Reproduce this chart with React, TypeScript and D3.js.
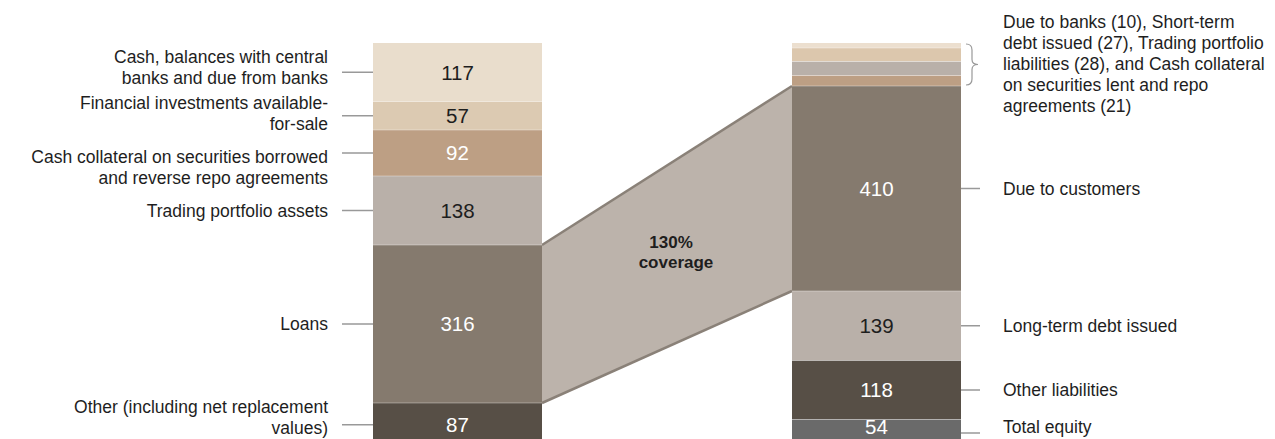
import * as d3 from 'd3';

// ── Data ──────────────────────────────────────────────────────────────────────
const ASSET_LABELS = [
  'Cash, balances with central\nbanks and due from banks',
  'Financial investments available-\nfor-sale',
  'Cash collateral on securities borrowed\nand reverse repo agreements',
  'Trading portfolio assets',
  'Loans',
  'Other (including net replacement\nvalues)',
];
const ASSET_VALUES = [117, 57, 92, 138, 316, 87];

const LIAB_LABELS = [
  'Due to banks',
  'Short-term debt issued',
  'Trading portfolio liabilities',
  'Cash collateral on securities lent and repo agreements',
  'Due to customers',
  'Long-term debt issued',
  'Other liabilities',
  'Total equity',
];
const LIAB_VALUES = [10, 27, 28, 21, 410, 139, 118, 54];
// first four liabilities share one bracketed note
const GROUPED_COUNT = 4;
const GROUP_NOTE_LINES = [
  'Due to banks (10), Short-term',
  'debt issued (27), Trading portfolio',
  'liabilities (28), and Cash collateral',
  'on securities lent and repo',
  'agreements (21)',
];

// ── Styling ───────────────────────────────────────────────────────────────────
const ASSET_COLORS = ['#e9ddcc', '#dccab2', '#bd9f84', '#b9b0a9', '#857a6e', '#574f46'];
const LIAB_COLORS = ['#ecdfcf', '#dcc7ad', '#b9b0a9', '#bd9f84', '#857a6e', '#b9b0a9', '#574f46', '#6a6a6a'];
// vertical nudge of each left text block vs its segment centre
const ASSET_TEXT_NUDGE = [-5, -2, 14, 0, 0, -7.5];

const W = 1275;
const H = 439;
const FONT = '"Liberation Sans", Arial, sans-serif';
const LABEL_SIZE = 17.5;
const LINE_H = 21;
const NUM_SIZE = 20.5;
const MAX_TEXT_Y = 427; // keep text clear of the cropped bottom edge

const LEFT_X0 = 373, LEFT_X1 = 542;
const RIGHT_X0 = 792, RIGHT_X1 = 961;

function segments(values: number[]) {
  const ends = Array.from(d3.cumsum(values));
  return values.map((v, i) => ({ v, y0: ends[i] - v, y1: ends[i] }));
}

function textColor(fill: string) {
  return d3.lab(fill).l < 70 ? '#ffffff' : '#1e1e1e';
}

export default function App() {
  const total = d3.sum(ASSET_VALUES);
  const y = d3.scaleLinear().domain([0, total]).range([43, 43 + total * 0.5]);

  const left = segments(ASSET_VALUES);
  const right = segments(LIAB_VALUES);

  const loans = left[4];
  const deposits = right[4];
  const coverage = Math.round((deposits.v / loans.v) * 100);

  const groupTop = y(right[0].y0);
  const groupBot = y(right[GROUPED_COUNT - 1].y1);
  const groupMid = (groupTop + groupBot) / 2;
  const bx = 966;
  const brace = `M${bx},${groupTop + 1} Q${bx + 6},${groupTop + 1} ${bx + 6},${groupTop + 7} L${bx + 6},${groupMid - 5} Q${bx + 6},${groupMid} ${bx + 12},${groupMid} Q${bx + 6},${groupMid} ${bx + 6},${groupMid + 5} L${bx + 6},${groupBot - 7} Q${bx + 6},${groupBot - 1} ${bx},${groupBot - 1}`;

  const trap = d3.line()([
    [LEFT_X1, y(loans.y0)],
    [RIGHT_X0, y(deposits.y0)],
    [RIGHT_X0, y(deposits.y1)],
    [LEFT_X1, y(loans.y1)],
  ]) as string;

  return (
    <svg
      width={W}
      height={H}
      style={{ position: 'absolute', left: 0, top: 0, background: '#fff', fontFamily: FONT }}
    >
      {/* coverage band */}
      <path d={trap} fill="#bcb3ab" />
      <line x1={LEFT_X1} y1={y(loans.y0)} x2={RIGHT_X0} y2={y(deposits.y0)} stroke="#8a8178" strokeWidth={2.5} />
      <line x1={LEFT_X1} y1={y(loans.y1)} x2={RIGHT_X0} y2={y(deposits.y1)} stroke="#8a8178" strokeWidth={2.5} />
      <text x={671} y={248} textAnchor="middle" fontSize={17} fontWeight="bold" fill="#1e1e1e">
        {coverage}%
      </text>
      <text x={676} y={268} textAnchor="middle" fontSize={17} fontWeight="bold" fill="#1e1e1e">
        coverage
      </text>

      {/* assets */}
      {left.map((s, i) => {
        const cy = (y(s.y0) + y(s.y1)) / 2;
        const lines = ASSET_LABELS[i].split('\n');
        const blockC = cy + ASSET_TEXT_NUDGE[i];
        const numY = Math.min(cy, MAX_TEXT_Y);
        return (
          <g key={'a' + i}>
            <rect
              x={LEFT_X0}
              y={y(s.y0)}
              width={LEFT_X1 - LEFT_X0}
              height={y(s.y1) - y(s.y0)}
              fill={ASSET_COLORS[i]}
            />
            <text
              x={(LEFT_X0 + LEFT_X1) / 2}
              y={numY + NUM_SIZE * 0.36}
              textAnchor="middle"
              fontSize={NUM_SIZE}
              fill={textColor(ASSET_COLORS[i])}
            >
              {s.v}
            </text>
            <line x1={342} x2={LEFT_X0} y1={cy} y2={cy} stroke="#999" strokeWidth={1.5} />
            {lines.map((ln, j) => (
              <text
                key={j}
                x={328}
                y={blockC + (j - (lines.length - 1) / 2) * LINE_H + LABEL_SIZE * 0.35}
                textAnchor="end"
                fontSize={LABEL_SIZE}
                fill="#1e1e1e"
              >
                {ln}
              </text>
            ))}
          </g>
        );
      })}
      {left.slice(1).map((s, i) => (
        <line key={'as' + i} x1={LEFT_X0} x2={LEFT_X1} y1={y(s.y0)} y2={y(s.y0)} stroke="#fff" strokeOpacity={0.35} />
      ))}

      {/* liabilities */}
      {right.map((s, i) => {
        const cy = (y(s.y0) + y(s.y1)) / 2;
        const grouped = i < GROUPED_COUNT;
        const ty = Math.min(cy, MAX_TEXT_Y);
        return (
          <g key={'l' + i}>
            <rect
              x={RIGHT_X0}
              y={y(s.y0)}
              width={RIGHT_X1 - RIGHT_X0}
              height={y(s.y1) - y(s.y0)}
              fill={LIAB_COLORS[i]}
            />
            {!grouped && (
              <>
                <text
                  x={(RIGHT_X0 + RIGHT_X1) / 2}
                  y={ty + NUM_SIZE * 0.36}
                  textAnchor="middle"
                  fontSize={NUM_SIZE}
                  fill={textColor(LIAB_COLORS[i])}
                >
                  {s.v}
                </text>
                <line x1={RIGHT_X1} x2={980} y1={cy} y2={cy} stroke="#999" strokeWidth={1.5} />
                <text x={1003} y={ty + LABEL_SIZE * 0.35} fontSize={LABEL_SIZE} fill="#1e1e1e">
                  {LIAB_LABELS[i]}
                </text>
              </>
            )}
          </g>
        );
      })}
      {right.slice(1).map((s, i) => (
        <line key={'ls' + i} x1={RIGHT_X0} x2={RIGHT_X1} y1={y(s.y0)} y2={y(s.y0)} stroke="#fff" strokeOpacity={0.35} />
      ))}

      {/* bracket note for the small liabilities */}
      <path d={brace} fill="none" stroke="#999" strokeWidth={1.2} />
      {GROUP_NOTE_LINES.map((ln, j) => (
        <text
          key={j}
          x={1003}
          y={groupMid + (j - (GROUP_NOTE_LINES.length - 1) / 2) * LINE_H - 1 + LABEL_SIZE * 0.35}
          fontSize={LABEL_SIZE}
          fill="#1e1e1e"
        >
          {ln}
        </text>
      ))}
    </svg>
  );
}
